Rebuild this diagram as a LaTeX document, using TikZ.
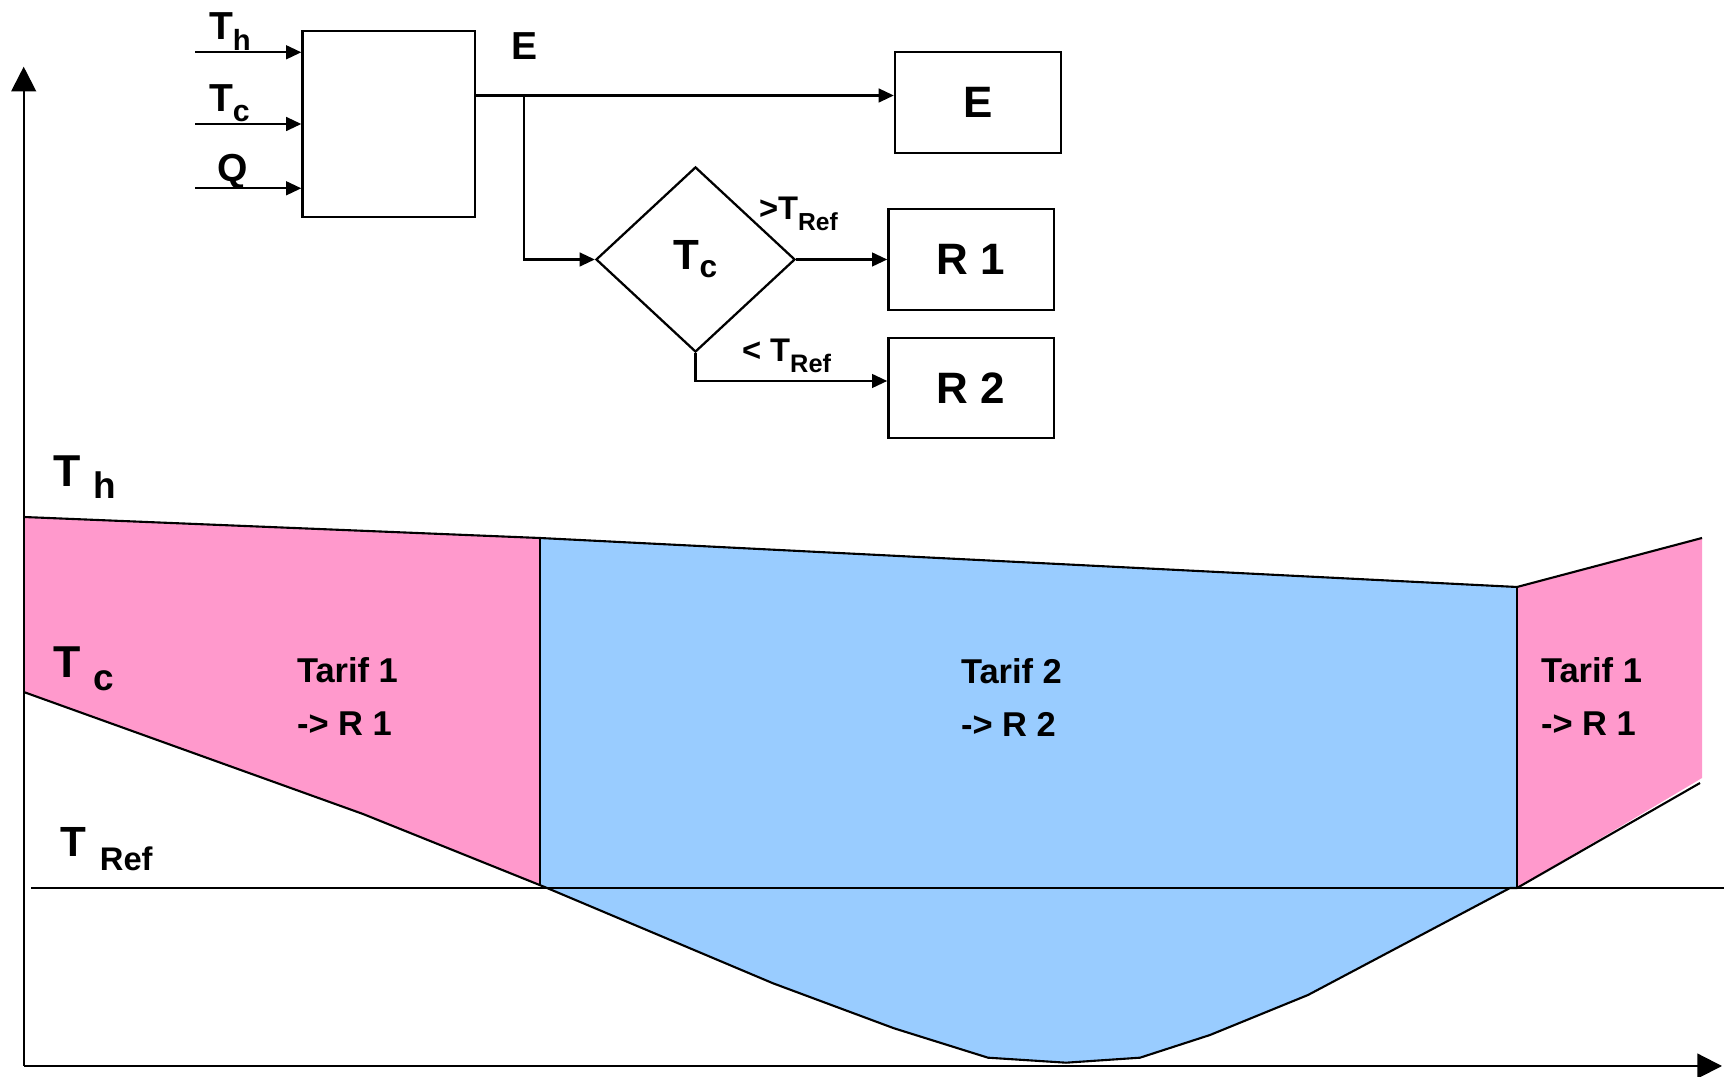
\documentclass[tikz,border=0pt]{standalone}
\usepackage{fontspec}
\setmainfont{Liberation Sans}
\usetikzlibrary{shapes.geometric,arrows.meta}
\definecolor{pinkfill}{RGB}{255,153,204}
\definecolor{bluefill}{RGB}{153,204,255}
\newcommand{\mysub}[3]{\raisebox{-#2}{\fontsize{#1}{#1}\selectfont #3}}
\begin{document}
\begin{tikzpicture}[x=0.01cm,y=-0.01cm,
  line width=0.6pt,
  flowarrow/.style={-{Triangle[length=4.3pt,width=3.9pt]}},
  axisarrow/.style={-{Triangle[length=7pt,width=7pt]}},
  blockbox/.style={draw, rectangle, inner sep=0pt, line width=0.65pt, font=\bfseries\fontsize{12.5}{14}\selectfont},
  lbl/.style={inner sep=0pt, anchor=base west},
  inlbl/.style={lbl, font=\bfseries\fontsize{11.1}{13}\selectfont},
  reflbl/.style={lbl, font=\bfseries\fontsize{9.3}{11}\selectfont},
  chartlbl/.style={lbl, font=\bfseries\fontsize{12.5}{14}\selectfont},
  tariflbl/.style={lbl, font=\bfseries\fontsize{9.8}{14.8}\selectfont},
  chartline/.style={line width=0.6pt}
]
\useasboundingbox (0,0) rectangle (1724,1077);

% ---------- chart fills ----------
\coordinate (th0) at (23.7,517);
\coordinate (th1) at (539.6,538);
\coordinate (th2) at (1517,587);
\coordinate (th3) at (1702,538);
\coordinate (tc0) at (23.7,692);
\coordinate (tcm) at (363,814);
\coordinate (tc1) at (539.6,885);
\coordinate (cA) at (547,888);
\coordinate (cB) at (773,983.3);
\coordinate (cC) at (894,1028.3);
\coordinate (cD) at (988,1057.7);
\coordinate (cE) at (1066,1062.7);
\coordinate (cF) at (1140,1057.7);
\coordinate (cG) at (1210,1035);
\coordinate (cH) at (1308,995);
\coordinate (cI) at (1510,888);
\coordinate (bl2) at (1517,888);
\coordinate (rb) at (1700,783);
\coordinate (rr) at (1702,778);

\fill[pinkfill] (th0) -- (th1) -- (tc1) -- (tcm) -- (tc0) -- cycle;
\fill[bluefill] (th1) -- (th2) -- (bl2) -- (cI) -- (cH) -- (cG) -- (cF) -- (cE) -- (cD) -- (cC) -- (cB) -- (cA) -- (tc1) -- cycle;
\fill[pinkfill] (th2) -- (th3) -- (rr) -- (bl2) -- cycle;

% ---------- chart lines ----------
\draw[chartline] (th0) -- (th1) -- (th2) -- (th3);
\draw[chartline] (tc0) -- (tcm) -- (tc1) -- (cA) -- (cB) -- (cC) -- (cD) -- (cE) -- (cF) -- (cG) -- (cH) -- (cI) -- (bl2) -- (rb);
\draw[chartline] (th1) -- (tc1);
\draw[chartline] (th2) -- (bl2);
\coordinate (refL) at (31.4,888.3);
\coordinate (refR) at (1724,888.3);
\draw[chartline] (refL) -- (refR);

% axes
\coordinate (origin) at (23.7,1066);
\coordinate (ytip) at (23.7,66.7);
\coordinate (xtip) at (1722,1066);
\draw[axisarrow] (origin) -- (ytip);
\draw[axisarrow] (origin) -- (xtip);

% chart labels
\node[chartlbl] (lTh) at (52,487) {\fontsize{12.7}{14}\selectfont T\hspace{3.8pt}\mysub{10.5}{3.4pt}{h}};
\node[chartlbl] (lTc) at (52,678) {\fontsize{12.7}{14}\selectfont T\hspace{3.8pt}\mysub{10.5}{3.6pt}{c}};
\node[chartlbl] (lTr) at (59,857) {\fontsize{12}{14}\selectfont T\hspace{4pt}\mysub{9.3}{3.7pt}{Ref}};

\node[tariflbl] (tarA) at (296,683) {\begin{tabular}[t]{@{}l@{}}Tarif 1\\-> R 1\end{tabular}};
\node[tariflbl] (tarB) at (960,684) {\begin{tabular}[t]{@{}l@{}}Tarif 2\\-> R 2\end{tabular}};
\node[tariflbl] (tarC) at (1540,683) {\begin{tabular}[t]{@{}l@{}}Tarif 1\\-> R 1\end{tabular}};

% ---------- flow diagram ----------
\node[blockbox, minimum width=1.725cm, minimum height=1.86cm] (proc) at (388.75,124) {};
\node[blockbox, minimum width=1.66cm, minimum height=1.01cm] (Ebox) at (978,102.5) {E};
\node[blockbox, minimum width=1.654cm, minimum height=1.01cm] (R1) at (971.1,259.5) {R 1};
\node[blockbox, minimum width=1.654cm, minimum height=1.00cm] (R2) at (971.1,388) {R 2};
\node[draw, diamond, inner sep=0pt, line width=0.65pt, minimum width=1.99cm, minimum height=1.85cm,
      font=\bfseries\fontsize{12}{14}\selectfont] (dia) at (695.5,259.5) {T\mysub{9}{2.3pt}{c}};

% inputs
\coordinate (inTh) at (195,52.3);
\coordinate (inTc) at (195,124);
\coordinate (inQ) at (195,188.3);
\draw[flowarrow] (inTh) -- (inTh -| proc.west);
\draw[flowarrow] (inTc) -- (inTc -| proc.west);
\draw[flowarrow] (inQ) -- (inQ -| proc.west);
\node[inlbl] (lin1) at (208,40) {T\mysub{8.3}{2.85pt}{h}};
\node[inlbl] (lin2) at (208,112) {T\mysub{8.6}{2.7pt}{c}};
\node[inlbl] (lin3) at (216,181.5) {Q};

% output E
\coordinate (ey) at (0,95.5);
\coordinate (br) at (524,95.5);
\draw[flowarrow] (proc.east |- ey) -- (Ebox.west |- ey);
\node[inlbl] (lE) at (510,60) {E};
\draw[flowarrow] (br) |- (dia.west);
\draw[flowarrow] (dia.east) -- (R1.west);
\coordinate (r2y) at (0,381);
\draw[flowarrow] (dia.south) |- (R2.west |- r2y);
\node[reflbl] (lgt) at (758,220) {>T\mysub{7}{2.85pt}{Ref}};
\node[reflbl] (llt) at (741,362) {< T\mysub{7.2}{2.85pt}{Ref}};
\end{tikzpicture}
\end{document}
